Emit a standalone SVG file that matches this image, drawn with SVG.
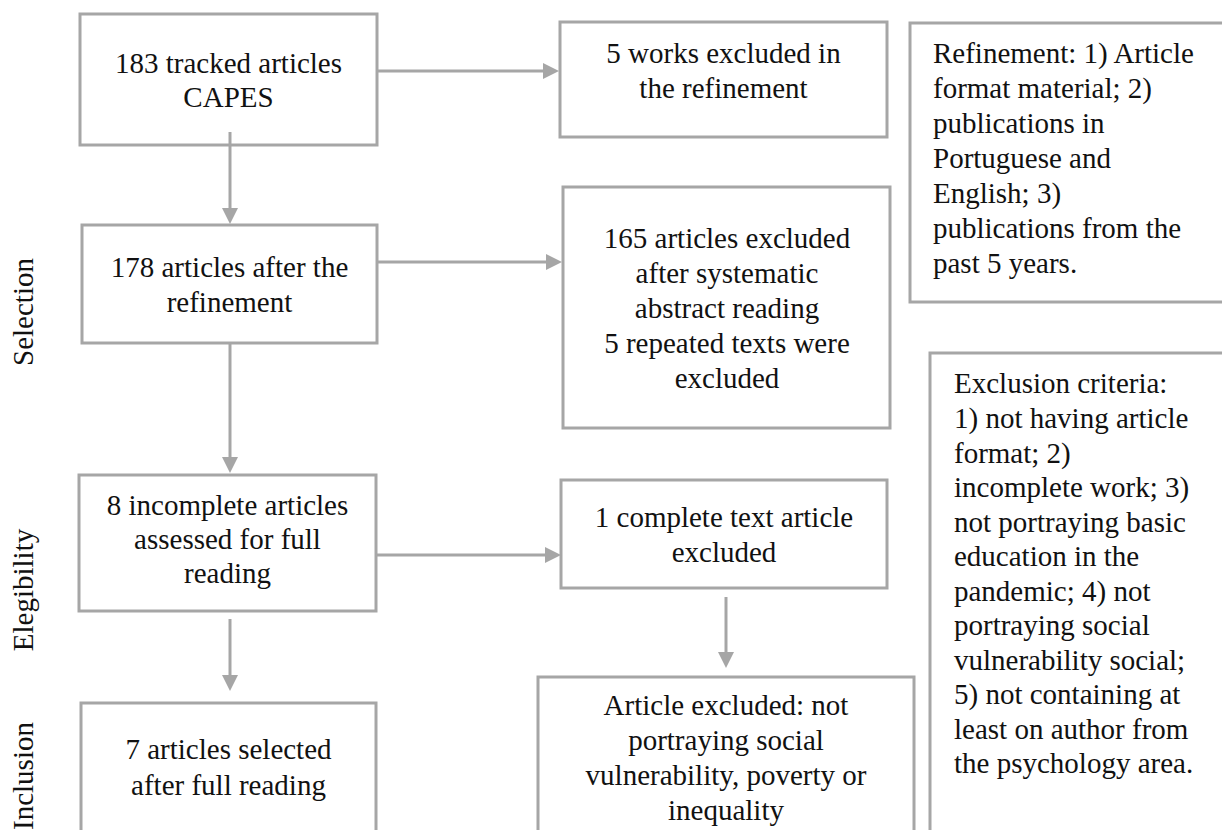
<svg xmlns="http://www.w3.org/2000/svg" width="1222" height="830" viewBox="0 0 1222 830">
<style>
  .box { fill: #ffffff; stroke: #a6a6a6; stroke-width: 3; }
  .t { font-family: "Liberation Serif", "Times New Roman", serif; font-size: 29px; fill: #111111; }
  .c { text-anchor: middle; }
  .conn { stroke: #a6a6a6; stroke-width: 3; fill: none; marker-end: url(#arr); }
</style>
<defs>
  <marker id="arr" viewBox="0 0 16 16" refX="6" refY="8" markerWidth="16" markerHeight="16" markerUnits="userSpaceOnUse" orient="auto">
    <path d="M0,0 L16,8 L0,16 Z" fill="#a6a6a6"/>
  </marker>
</defs>
<rect width="1222" height="830" fill="#ffffff"/>

<g id="labels">
  <text class="t c" transform="translate(33,312) rotate(-90)">Selection</text>
  <text class="t c" transform="translate(33,590) rotate(-90)">Elegibility</text>
  <text class="t c" transform="translate(33,776) rotate(-90)">Inclusion</text>
</g>

<g id="n1">
  <rect class="box" x="80" y="14" width="297" height="131"/>
  <text class="t c" x="228.5" y="73">183 tracked articles</text>
  <text class="t c" x="228.5" y="107">CAPES</text>
</g>
<g id="n2">
  <rect class="box" x="82" y="225" width="295" height="118"/>
  <text class="t c" x="229.5" y="277">178 articles after the</text>
  <text class="t c" x="229.5" y="312">refinement</text>
</g>
<g id="n3">
  <rect class="box" x="560" y="22" width="327" height="115"/>
  <text class="t c" x="723.5" y="63">5 works excluded in</text>
  <text class="t c" x="723.5" y="98">the refinement</text>
</g>
<g id="n4">
  <rect class="box" x="563" y="187" width="327" height="241"/>
  <text class="t c" x="727" y="248">165 articles excluded</text>
  <text class="t c" x="727" y="283">after systematic</text>
  <text class="t c" x="727" y="318">abstract reading</text>
  <text class="t c" x="727" y="353">5 repeated texts were</text>
  <text class="t c" x="727" y="388">excluded</text>
</g>
<g id="n5">
  <rect class="box" x="910" y="23" width="320" height="279"/>
  <text class="t" x="933" y="63">Refinement: 1) Article</text>
  <text class="t" x="933" y="98">format material; 2)</text>
  <text class="t" x="933" y="133">publications in</text>
  <text class="t" x="933" y="168">Portuguese and</text>
  <text class="t" x="933" y="203">English; 3)</text>
  <text class="t" x="933" y="238">publications from the</text>
  <text class="t" x="933" y="273">past 5 years.</text>
</g>
<g id="n6">
  <rect class="box" x="930" y="353" width="300" height="490"/>
  <text class="t" x="954" y="393">Exclusion criteria:</text>
  <text class="t" x="954" y="428">1) not having article</text>
  <text class="t" x="954" y="463">format; 2)</text>
  <text class="t" x="954" y="497">incomplete work; 3)</text>
  <text class="t" x="954" y="532">not portraying basic</text>
  <text class="t" x="954" y="566">education in the</text>
  <text class="t" x="954" y="601">pandemic; 4) not</text>
  <text class="t" x="954" y="635">portraying social</text>
  <text class="t" x="954" y="670">vulnerability social;</text>
  <text class="t" x="954" y="704">5) not containing at</text>
  <text class="t" x="954" y="739">least on author from</text>
  <text class="t" x="954" y="773">the psychology area.</text>
</g>
<g id="n7">
  <rect class="box" x="79" y="475" width="297" height="136"/>
  <text class="t c" x="227.5" y="515">8 incomplete articles</text>
  <text class="t c" x="227.5" y="549">assessed for full</text>
  <text class="t c" x="227.5" y="583">reading</text>
</g>
<g id="n8">
  <rect class="box" x="561" y="480" width="326" height="108"/>
  <text class="t c" x="724" y="527">1 complete text article</text>
  <text class="t c" x="724" y="562">excluded</text>
</g>
<g id="n9">
  <rect class="box" x="538" y="677" width="376" height="170"/>
  <text class="t c" x="726" y="715">Article excluded: not</text>
  <text class="t c" x="726" y="750">portraying social</text>
  <text class="t c" x="726" y="785">vulnerability, poverty or</text>
  <text class="t c" x="726" y="820">inequality</text>
</g>
<g id="n10">
  <rect class="box" x="81" y="703" width="295" height="150"/>
  <text class="t c" x="228.5" y="759">7 articles selected</text>
  <text class="t c" x="228.5" y="795">after full reading</text>
</g>

<g id="connectors">
  <line class="conn" x1="377" y1="71" x2="549" y2="71"/>
  <line class="conn" x1="230" y1="132" x2="230" y2="214"/>
  <line class="conn" x1="377" y1="262" x2="552" y2="262"/>
  <line class="conn" x1="230" y1="343" x2="230" y2="463"/>
  <line class="conn" x1="376" y1="555" x2="551" y2="555"/>
  <line class="conn" x1="230" y1="619" x2="230" y2="681"/>
  <line class="conn" x1="726" y1="597" x2="726" y2="658"/>
</g>
</svg>
